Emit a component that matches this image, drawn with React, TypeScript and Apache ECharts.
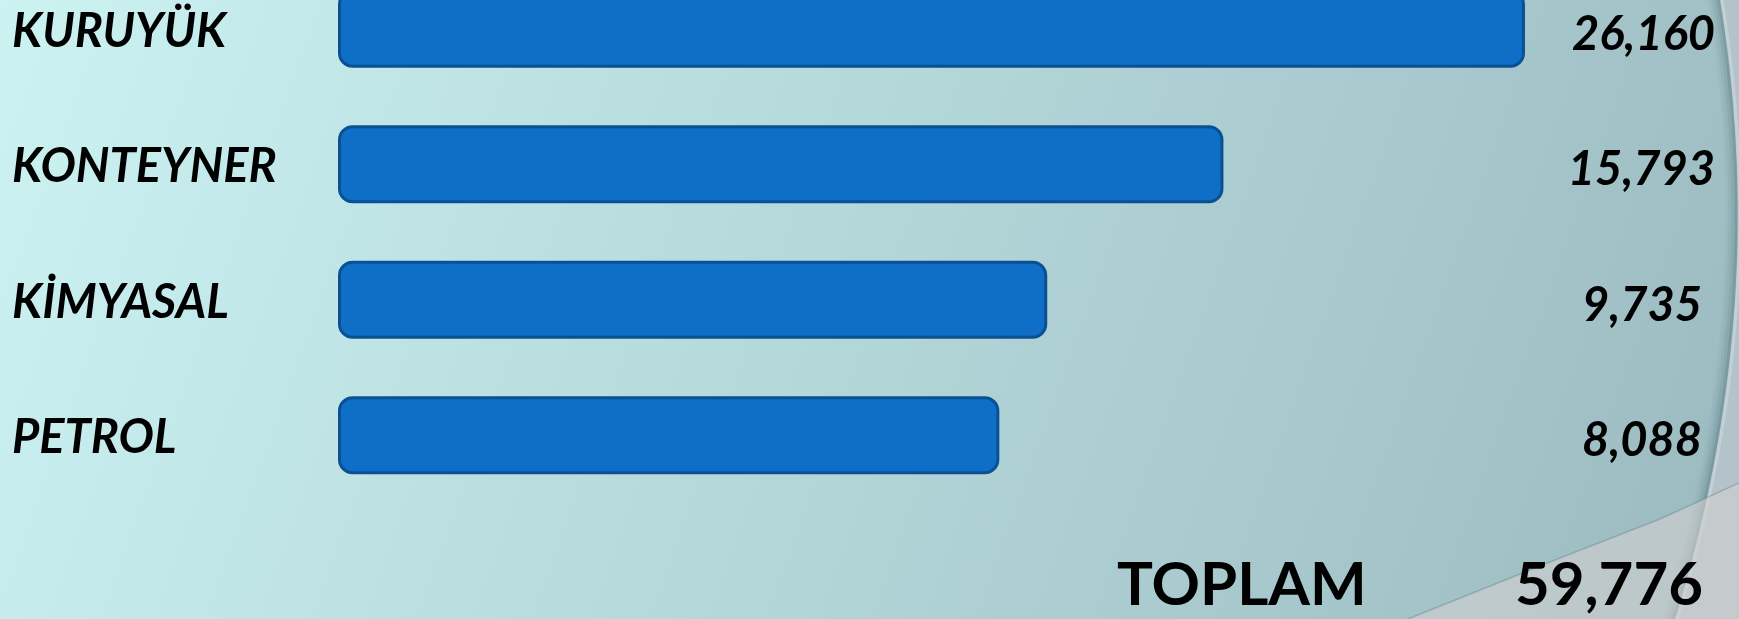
import React, { useEffect, useRef } from "react";
import * as echarts from "echarts";

const CATEGORIES = ["KURUYÜK", "KONTEYNER", "KİMYASAL", "PETROL"];
const VALUES = [26160, 15793, 9735, 8088];
const TOTAL_LABEL = "TOPLAM";

// axis range (bars start at the left edge of the plotting area)
const X_MIN = -14650;
const X_MAX = 33450;

// layout / style constants
const W = 1739;
const H = 619;
const SHIFT = 39; // the chart canvas starts 39px above the page top (first bar is cut off)
const CH = H + SHIFT;
const VALUE_RIGHT_X = [1715, 1715, 1702, 1702];
const FONT = "Lato";

const fmt = (v: number) => v.toLocaleString("en-US");

// decorative slide edge (right side arc), in page coordinates
const edgeX = (y: number) => 1720 + 0.1644 * y - 3.83e-4 * y * y;
const edgePoints = (dx: number) => {
  const pts: number[][] = [];
  for (let y = -SHIFT; y <= H + 10; y += 10) pts.push([edgeX(y) - dx, y + SHIFT]);
  return pts;
};

export default function App() {
  const ref = useRef<HTMLDivElement>(null);

  useEffect(() => {
    if (!ref.current) return;
    const chart = echarts.init(ref.current, null, { renderer: "svg" });
    const total = VALUES.reduce((a, b) => a + b, 0);

    const curve = [
      [1408, 619 + SHIFT],
      [1560, 558 + SHIFT],
      [1660, 519 + SHIFT],
      [1739, 483 + SHIFT],
    ];
    const inside = [[-10, -10], ...edgePoints(0), [-10, CH + 20]];

    const shade = [
      { d: 1.5, w: 3, a: 0.32 },
      { d: 4.5, w: 3, a: 0.2 },
      { d: 7.5, w: 3, a: 0.11 },
      { d: 10.5, w: 3, a: 0.05 },
    ].map((s, i) => ({
      type: "polyline",
      z: -18 + i * 0.01,
      shape: { points: edgePoints(s.d) },
      style: { stroke: `rgba(50,85,95,${s.a})`, lineWidth: s.w, fill: null },
      silent: true,
    }));

    chart.setOption({
      animation: false,
      grid: { left: 338, right: 2, top: 0, bottom: CH - 542, containLabel: false },
      xAxis: {
        type: "value",
        min: X_MIN,
        max: X_MAX,
        show: false,
      },
      yAxis: {
        type: "category",
        data: CATEGORIES,
        inverse: true,
        axisLine: { show: false },
        axisTick: { show: false },
        splitLine: { show: false },
        axisLabel: {
          align: "left",
          margin: 326,
          color: "#000",
          fontFamily: FONT,
          fontSize: 47,
          fontWeight: "bold",
          fontStyle: "italic",
          padding: [6, 0, 0, 0],
        },
      },
      graphic: [
        {
          type: "rect",
          z: -20,
          shape: { x: 0, y: 0, width: W, height: CH },
          style: { fill: "#b3c3c9" },
          silent: true,
        },
        {
          type: "polygon",
          z: -19,
          shape: { points: inside },
          style: {
            fill: {
              type: "linear",
              x: 0,
              y: SHIFT,
              x2: W,
              y2: CH,
              global: true,
              colorStops: [
                { offset: 0, color: "#ccf2f2" },
                { offset: 0.5, color: "#b3d6d9" },
                { offset: 1, color: "#9bbac0" },
              ],
            },
          },
          silent: true,
        },
        ...shade,
        {
          type: "polyline",
          z: -17.5,
          shape: { points: edgePoints(-2) },
          style: { stroke: "rgba(225,235,238,0.35)", lineWidth: 3, fill: null },
          silent: true,
        },
        {
          type: "polygon",
          z: -17,
          shape: { points: [...curve, [1739, CH]] },
          style: { fill: "rgba(208,206,206,0.6)" },
          silent: true,
        },
        {
          type: "polyline",
          z: -16,
          shape: { points: curve },
          style: { stroke: "rgba(80,110,118,0.3)", lineWidth: 1.5, fill: null },
          silent: true,
        },
        {
          type: "text",
          z: 10,
          x: 1117,
          y: 582 + SHIFT,
          style: {
            text: TOTAL_LABEL,
            align: "left",
            verticalAlign: "middle",
            fontFamily: FONT,
            fontSize: 60,
            fontWeight: "bold",
            fill: "#000",
          },
        },
        {
          type: "text",
          z: 10,
          x: 1703,
          y: 582 + SHIFT,
          style: {
            text: fmt(total),
            align: "right",
            verticalAlign: "middle",
            fontFamily: FONT,
            fontSize: 60,
            fontWeight: "bold",
            fill: "#000",
          },
        },
      ],
      series: [
        {
          type: "custom",
          data: VALUES.map((v, i) => [v, i]),
          encode: { x: 0, y: 1 },
          renderItem: (params: any, api: any) => {
            const v = api.value(0);
            const idx = api.value(1);
            const start = api.coord([X_MIN, idx]);
            const end = api.coord([v, idx]);
            const band = api.size([0, 1])[1];
            const h = band * 0.553;
            return {
              type: "group",
              children: [
                {
                  type: "rect",
                  shape: {
                    x: start[0] + 1.5,
                    y: start[1] - h / 2,
                    width: end[0] - start[0] - 3,
                    height: h,
                    r: 13,
                  },
                  style: { fill: "#0f6ec5", stroke: "#0a5194", lineWidth: 3 },
                },
                {
                  type: "text",
                  x: VALUE_RIGHT_X[params.dataIndex],
                  y: start[1] + 3,
                  style: {
                    text: fmt(v),
                    align: "right",
                    verticalAlign: "middle",
                    fontFamily: FONT,
                    fontSize: 47,
                    fontWeight: "bold",
                    fontStyle: "italic",
                    fill: "#000",
                  },
                },
              ],
            };
          },
        },
      ],
    });
    return () => chart.dispose();
  }, []);

  return (
    <div
      ref={ref}
      style={{ position: "fixed", left: 0, top: -SHIFT, width: W, height: CH }}
    />
  );
}
